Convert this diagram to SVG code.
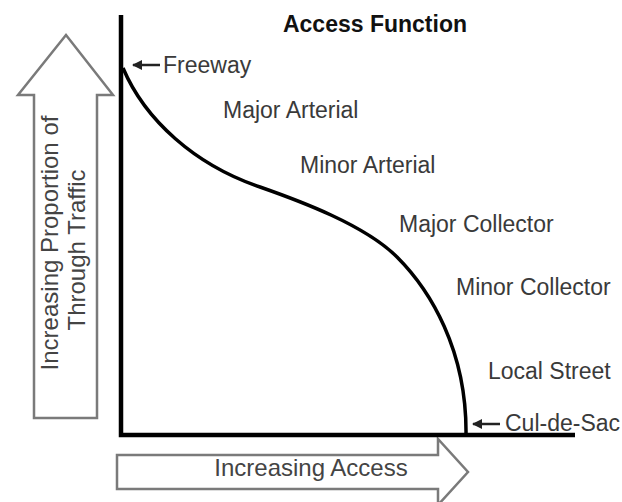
<svg xmlns="http://www.w3.org/2000/svg" width="622" height="502" viewBox="0 0 622 502">
<style>
.lbl{font-family:"Liberation Sans",Arial,sans-serif;font-size:23px;fill:#3a3a3a}
.ax{font-family:"Liberation Sans",Arial,sans-serif;font-size:24px;fill:#444}
.title{font-family:"Liberation Sans",Arial,sans-serif;font-size:23px;font-weight:bold;fill:#111}
.outline{fill:none;stroke:#7a7a7a;stroke-width:2.5;stroke-linejoin:miter}
.axis{stroke:#000;stroke-width:4.5;fill:none}
.ptr{stroke:#222;stroke-width:2.5;fill:none}
</style>
<defs>
<marker id="ah" viewBox="0 0 10 10" refX="9" refY="5" markerWidth="4" markerHeight="4" orient="auto-start-reverse">
<path d="M0,0 L10,5 L0,10 z" fill="#222"/>
</marker>
</defs>
<rect width="622" height="502" fill="#fff"/>
<g id="title"><text class="title" x="375" y="32" text-anchor="middle">Access Function</text></g>
<g id="up-arrow">
<path class="outline" d="M66,35 L113,95 L97,95 L97,418 L34,418 L34,95 L18,95 Z"/>
<text class="ax" transform="translate(58,243) rotate(-90)" text-anchor="middle">Increasing Proportion of</text>
<text class="ax" transform="translate(85,250) rotate(-90)" text-anchor="middle">Through Traffic</text>
</g>
<g id="right-arrow">
<path class="outline" d="M117,455 L438,455 L438,439 L468,472 L438,505 L438,489 L117,489 Z"/>
<text class="ax" x="311" y="476" text-anchor="middle">Increasing Access</text>
</g>
<g id="axes">
<path class="axis" d="M121,15 L121,435 L575,435"/>
</g>
<g id="curve">
<path d="M123,68 C145,120 195,165 260,187 C300,201 365,225 397,257 C430,290 467,350 466,435" fill="none" stroke="#000" stroke-width="3.5"/>
</g>
<g id="connectors">
<path class="ptr" d="M160,65 L133,65" marker-end="url(#ah)"/>
<path class="ptr" d="M500,424 L473,424" marker-end="url(#ah)"/>
</g>
<g id="freeway"><text class="lbl" x="163" y="73">Freeway</text></g>
<g id="major-arterial"><text class="lbl" x="223" y="118">Major Arterial</text></g>
<g id="minor-arterial"><text class="lbl" x="300" y="173">Minor Arterial</text></g>
<g id="major-collector"><text class="lbl" x="399" y="232">Major Collector</text></g>
<g id="minor-collector"><text class="lbl" x="456" y="295">Minor Collector</text></g>
<g id="local-street"><text class="lbl" x="488" y="379">Local Street</text></g>
<g id="cul-de-sac"><text class="lbl" x="505" y="431">Cul-de-Sac</text></g>
</svg>
